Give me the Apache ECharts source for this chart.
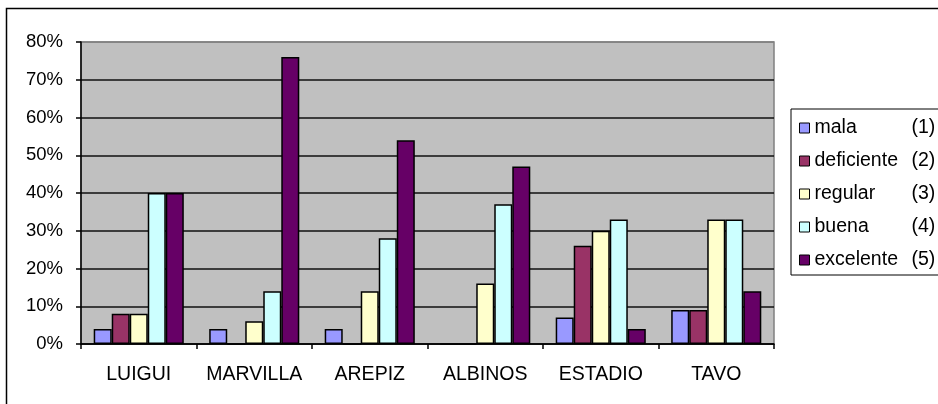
<!DOCTYPE html>
<html>
<head>
<meta charset="utf-8">
<script src="https://cdn.jsdelivr.net/npm/echarts@6/dist/echarts.min.js"></script>
<style>
  html, body { margin: 0; padding: 0; background: #fff; }
  #chart { width: 938px; height: 404px; }
</style>
</head>
<body>
<div id="chart"></div>
<script>
// Survey ratings per place, as percentages
const categories = ['LUIGUI', 'MARVILLA', 'AREPIZ', 'ALBINOS', 'ESTADIO', 'TAVO'];
const seriesNames = ['mala', 'deficiente', 'regular', 'buena', 'excelente'];
const seriesCodes = ['(1)', '(2)', '(3)', '(4)', '(5)'];
const mala       = [4, 4, 4, 0, 7, 9];
const deficiente = [8, 0, 0, 0, 26, 9];
const regular    = [8, 6, 14, 16, 30, 33];
const buena      = [40, 14, 28, 37, 33, 33];
const excelente  = [40, 76, 54, 47, 4, 14];
const yTicks = [0, 10, 20, 30, 40, 50, 60, 70, 80];

const values = [mala, deficiente, regular, buena, excelente];
const colors = ['#9999FF', '#993366', '#FFFFCC', '#CCFFFF', '#660066'];
const font = '"Liberation Sans", Arial, sans-serif';

const chart = echarts.init(document.getElementById('chart'), null, { renderer: 'canvas' });

// gridlines black, the top edge of the plot gray
const splitColors = yTicks.map((t, i) => i === yTicks.length - 1 ? '#808080' : '#111111');

chart.setOption({
  animation: false,
  backgroundColor: '#ffffff',
  graphic: [{
    type: 'rect',
    shape: { x: 6.5, y: 8.5, width: 1000, height: 1000 },
    style: { fill: 'none', stroke: '#000', lineWidth: 1.5 },
    z: -1
  }],
  grid: {
    left: 81, right: 164, top: 42, bottom: 60,
    show: true, backgroundColor: '#C0C0C0', borderColor: '#808080', borderWidth: 1.5
  },
  legend: {
    orient: 'vertical',
    left: 791, top: 109,
    padding: [9, 5, 5, 8],
    itemGap: 13,
    itemWidth: 10, itemHeight: 10,
    icon: 'rect',
    borderColor: '#000', borderWidth: 1,
    backgroundColor: '#fff',
    itemStyle: { borderColor: '#000', borderWidth: 1 },
    data: seriesNames,
    formatter: name => '{n|' + name + '}{k|' + seriesCodes[seriesNames.indexOf(name)] + '}',
    textStyle: {
      rich: {
        n: { fontFamily: font, fontSize: 19.5, color: '#000', width: 97, lineHeight: 22 },
        k: { fontFamily: font, fontSize: 19.5, color: '#000', lineHeight: 22 }
      }
    }
  },
  xAxis: {
    type: 'category',
    data: categories,
    axisLine: { lineStyle: { color: '#000', width: 1.5 } },
    axisTick: { show: true, interval: 0, alignWithLabel: false, length: 5, lineStyle: { color: '#000', width: 1.5 } },
    axisLabel: { interval: 0, fontFamily: font, fontSize: 19.5, color: '#000', margin: 21 },
    splitLine: { show: false }
  },
  yAxis: {
    type: 'value',
    min: 0, max: 80, interval: 10,
    axisLine: { show: true, lineStyle: { color: '#000', width: 1.5 } },
    axisTick: { show: true, length: 5, lineStyle: { color: '#000', width: 1.5 } },
    axisLabel: { fontFamily: font, fontSize: 18.5, color: '#000', margin: 18, formatter: '{value}%' },
    splitLine: { show: true, lineStyle: { color: splitColors, width: 1.5 } }
  },
  series: seriesNames.map((name, i) => ({
    name: name,
    type: 'bar',
    data: values[i],
    barGap: '0%',
    barCategoryGap: '22%',
    itemStyle: { color: colors[i], borderColor: '#000', borderWidth: 1.5 }
  }))
});
</script>
</body>
</html>
